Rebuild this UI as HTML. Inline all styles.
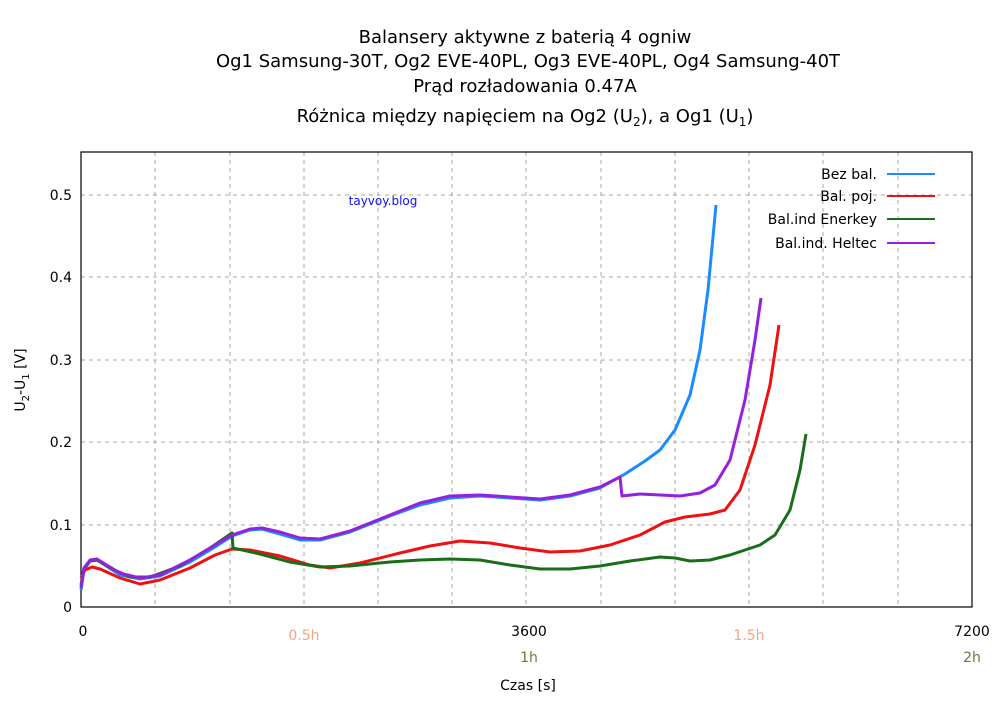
<!DOCTYPE html>
<html><head><meta charset="utf-8"><style>body{margin:0;background:#fff}svg text{font-family:"DejaVu Sans","Liberation Sans",sans-serif}</style></head><body>
<svg width="1000" height="700" viewBox="0 0 1000 700" xmlns="http://www.w3.org/2000/svg">
<rect width="1000" height="700" fill="#fff"/>
<g font-size="18" text-anchor="middle" fill="#000">
<text x="525" y="43">Balansery aktywne z baterią 4 ogniw</text>
<text x="528" y="67">Og1 Samsung-30T,  Og2 EVE-40PL, Og3 EVE-40PL, Og4 Samsung-40T</text>
<text x="525" y="92">Prąd rozładowania 0.47A</text>
<text x="525" y="122">Różnica między napięciem na Og2 (U<tspan font-size="12" dy="4">2</tspan><tspan dy="-4">), a Og1 (U</tspan><tspan font-size="12" dy="4">1</tspan><tspan dy="-4">)</tspan></text>
</g>
<g stroke="#aaa" stroke-dasharray="4,4" stroke-width="1">
<line x1="81" x2="972" y1="525" y2="525"/><line x1="81" x2="972" y1="442" y2="442"/><line x1="81" x2="972" y1="360" y2="360"/><line x1="81" x2="972" y1="277" y2="277"/><line x1="81" x2="972" y1="195" y2="195"/>
<line y1="152" y2="607" x1="155" x2="155"/><line y1="152" y2="607" x1="230" x2="230"/><line y1="152" y2="607" x1="304" x2="304"/><line y1="152" y2="607" x1="378" x2="378"/><line y1="152" y2="607" x1="452" x2="452"/><line y1="152" y2="607" x1="526" x2="526"/><line y1="152" y2="607" x1="601" x2="601"/><line y1="152" y2="607" x1="675" x2="675"/><line y1="152" y2="607" x1="749" x2="749"/><line y1="152" y2="607" x1="823" x2="823"/><line y1="152" y2="607" x1="898" x2="898"/>
</g>
<rect x="81" y="152" width="891" height="455" fill="none" stroke="#000" stroke-width="1.2"/>
<g font-size="14" fill="#000" text-anchor="end">
<text x="72" y="612">0</text><text x="72" y="530">0.1</text><text x="72" y="447">0.2</text><text x="72" y="365">0.3</text><text x="72" y="282">0.4</text><text x="72" y="200">0.5</text>
</g>
<g font-size="14" text-anchor="middle">
<text x="83" y="636">0</text><text x="529" y="636">3600</text><text x="972" y="636">7200</text>
<text x="304" y="640" fill="#f4a582">0.5h</text><text x="749" y="640" fill="#f4a582">1.5h</text>
<text x="529" y="662" fill="#6b7a3a">1h</text><text x="972" y="662" fill="#6b7a3a">2h</text>
<text x="528" y="690">Czas [s]</text>
</g>
<text transform="translate(25,380) rotate(-90)" font-size="14" text-anchor="middle">U<tspan font-size="10" dy="4">2</tspan><tspan dy="-4">-U</tspan><tspan font-size="10" dy="4">1</tspan><tspan dy="-4"> [V]</tspan></text>
<text x="383" y="205" font-size="12" fill="#1010ee" text-anchor="middle">tayvoy.blog</text>
<g fill="none" stroke-width="3" stroke-linejoin="round">
<polyline stroke="#1a8cff" points="81,590 84,570 90,561 97,560 105,565 120,575 140,579 160,576 190,562 215,547 232,536 250,530 262,529 280,534 300,540 320,540 350,532 390,516 420,505 450,498 480,496 510,498 540,500 570,496 600,488 625,474 645,461 660,450 675,430 690,395 700,350 708,290 716,205"/>
<polyline stroke="#ee1111" points="81,578 85,570 92,567 100,569 120,578 140,584 160,580 190,568 215,555 232,549 250,550 280,556 310,565 330,568 360,563 400,553 430,546 460,541 490,543 520,548 550,552 580,551 610,545 640,535 665,522 685,517 710,514 725,510 740,490 755,445 770,385 779,325"/>
<polyline stroke="#1a6e1a" points="81,585 84,568 90,561 97,560 110,568 130,577 150,577 180,566 210,548 232,533 233,548 260,554 290,562 320,567 350,566 390,562 420,560 450,559 480,560 510,565 540,569 570,569 600,566 630,561 660,557 675,558 690,561 710,560 730,555 760,545 775,535 790,510 800,470 806,434"/>
<polyline stroke="#9422dd" points="81,588 84,568 90,560 97,559 105,564 120,573 140,578 160,575 190,560 215,545 232,535 250,529 262,528 280,532 300,538 320,539 350,531 390,515 420,503 450,496 480,495 510,497 540,499 570,495 600,487 620,477 622,496 640,494 680,496 700,493 715,485 730,460 745,400 755,340 761,298"/>
</g>
<g font-size="14" text-anchor="end" fill="#000">
<text x="877" y="179">Bez bal.</text><text x="877" y="201">Bal. poj.</text><text x="877" y="224">Bal.ind Enerkey</text><text x="877" y="248">Bal.ind. Heltec</text>
</g>
<g stroke-width="2">
<line x1="887" x2="935" y1="174" y2="174" stroke="#1a8cff"/><line x1="887" x2="935" y1="196" y2="196" stroke="#ee1111"/><line x1="887" x2="935" y1="219" y2="219" stroke="#1a6e1a"/><line x1="887" x2="935" y1="243" y2="243" stroke="#9422dd"/>
</g>
</svg>
</body></html>
